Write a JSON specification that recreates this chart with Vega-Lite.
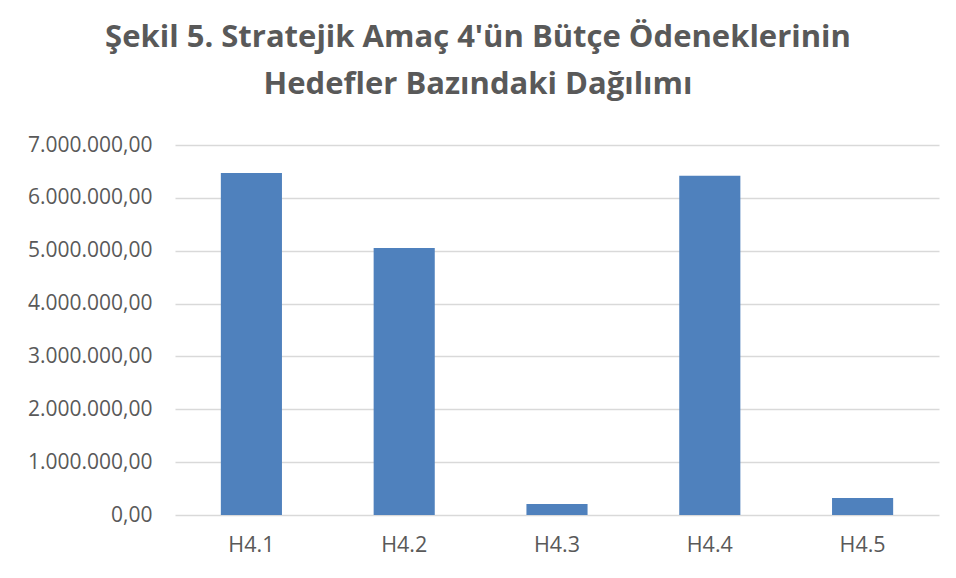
{
  "$schema": "https://vega.github.io/schema/vega-lite/v6.json",
  "autosize": {"type": "none"},
  "width": 764,
  "height": 370,
  "padding": {"left": 175, "top": 145, "right": 17, "bottom": 63},
  "background": "white",
  "config": {
    "locale": {"number": {"decimal": ",", "thousands": ".", "grouping": [3], "currency": ["", " TL"]}},
    "view": {"stroke": null},
    "font": "Open Sans"
  },
  "title": {
    "text": ["Şekil 5. Stratejik Amaç 4'ün Bütçe Ödeneklerinin", "Hedefler Bazındaki Dağılımı"],
    "font": "Open Sans",
    "fontSize": 31,
    "fontWeight": "bold",
    "color": "#595959",
    "anchor": "middle",
    "dx": -79,
    "lineHeight": 47,
    "offset": 33
  },
  "data": {
    "values": [
      {"hedef": "H4.1", "butce": 6470000},
      {"hedef": "H4.2", "butce": 5050000},
      {"hedef": "H4.3", "butce": 210000},
      {"hedef": "H4.4", "butce": 6420000},
      {"hedef": "H4.5", "butce": 320000}
    ]
  },
  "mark": {"type": "bar", "color": "#4F81BD"},
  "encoding": {
    "x": {
      "field": "hedef",
      "type": "nominal",
      "scale": {"paddingInner": 0.6, "paddingOuter": 0.3},
      "axis": {
        "title": null,
        "labelAngle": 0,
        "domain": false,
        "ticks": false,
        "labelPadding": 19,
        "labelFont": "Open Sans",
        "labelFontSize": 21.5,
        "labelColor": "#595959"
      }
    },
    "y": {
      "field": "butce",
      "type": "quantitative",
      "scale": {"domain": [0, 7000000]},
      "axis": {
        "title": null,
        "values": [0, 1000000, 2000000, 3000000, 4000000, 5000000, 6000000, 7000000],
        "format": ",.2f",
        "domain": false,
        "ticks": false,
        "labelPadding": 23,
        "labelFont": "Open Sans",
        "labelFontSize": 21,
        "labelColor": "#595959",
        "gridColor": "#D9D9D9",
        "gridWidth": 1.5
      }
    }
  }
}
